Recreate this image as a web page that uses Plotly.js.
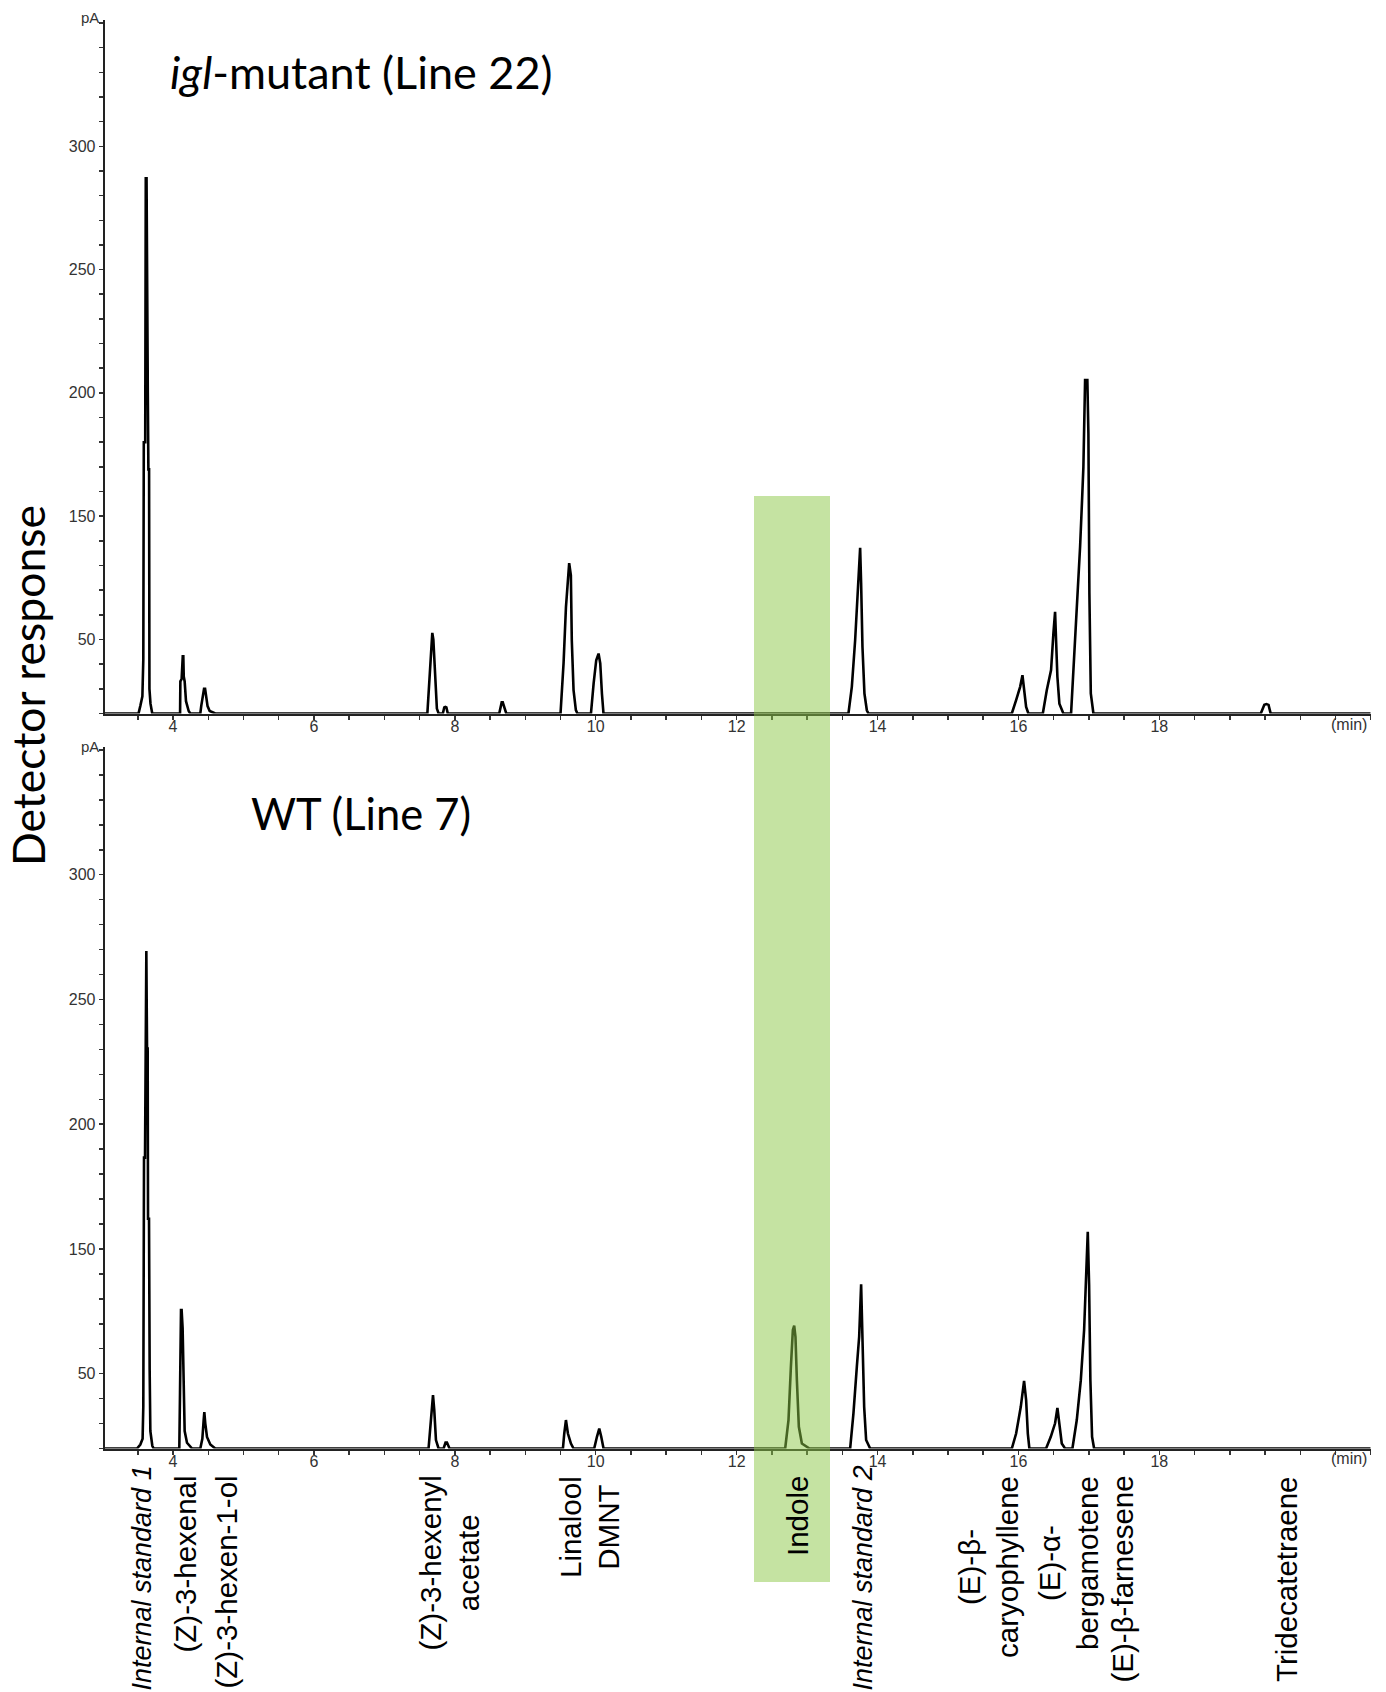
<!DOCTYPE html>
<html>
<head>
<meta charset="utf-8">
<script src="https://cdn.plot.ly/plotly-3.0.1.min.js"></script>
<style>html,body{margin:0;padding:0;background:#fff;}#chart{width:1386px;height:1692px;}</style>
</head>
<body>
<div id="chart"></div>
<script>
// ---------------- DATA ----------------
// Retention time (min) and detector signal for the igl-mutant (Line 22) chromatogram
const timeTop = [
  3.03,
  3.51,3.535,3.565,3.578,3.585,3.605,3.613,3.624,3.632,3.642,3.65,3.66,3.665,3.68,3.705,
  4.10,4.104,4.122,4.138,4.146,4.152,4.165,4.184,4.222,4.245,
  4.387,4.40,4.42,4.44,4.455,4.47,4.49,4.52,4.60,
  7.61,7.64,7.665,7.68,7.695,7.72,7.745,7.77,
  7.83,7.85,7.865,7.88,7.90,
  8.63,8.665,8.68,8.705,8.73,
  9.50,9.543,9.577,9.605,9.623,9.647,9.66,9.685,9.718,9.74,
  9.932,9.97,10.007,10.04,10.064,10.088,10.11,
  13.587,13.635,13.682,13.72,13.753,13.767,13.786,13.814,13.848,13.871,
  15.906,15.967,16.024,16.057,16.085,16.109,16.141,
  16.346,16.402,16.463,16.496,16.52,16.534,16.553,16.581,16.638,
  16.747,16.79,16.837,16.875,16.903,16.922,16.946,16.978,16.993,17.007,17.027,17.064,
  19.44,19.49,19.52,19.55,19.58,
  21.0
];
const signalTop = [
  70,
  70,73,77,92,180,180,287,287,200,200,169,169,80,74,70,
  70,83,84,93.2,93.2,85,83,75,71,70,
  70,73,76,80,80,76,73,71,70,
  70,85,100,102.7,100,85,72,70,
  70,72.5,72.7,72.5,70,
  70,74.5,74.5,72,70,
  70,90.3,113,126.4,131,126,99.7,79.5,71.4,70,
  70,82.2,91.6,94.3,90.3,78,70,
  70,80.8,99.7,117.3,137.2,122.7,97,78.1,71.3,70,
  70,75.4,80.8,85.5,79.4,72.7,70,
  70,79.4,87.6,102.4,111.2,99.7,84.8,74,70,
  70,91.6,114.6,137.6,156.5,170,205.2,205.2,183.5,118.7,78.1,70,
  70,73.5,73.8,73.5,70,
  70
];
// Retention time (min) and detector signal for the WT (Line 7) chromatogram
const timeBottom = [
  3.03,
  3.489,3.536,3.568,3.578,3.588,3.602,3.611,3.621,3.631,3.64,3.645,3.659,3.668,3.678,3.706,3.725,
  4.089,4.094,4.099,4.113,4.122,4.136,4.146,4.165,4.198,4.27,
  4.387,4.416,4.435,4.444,4.458,4.482,4.529,4.60,
  7.627,7.661,7.69,7.708,7.732,7.769,
  7.84,7.868,7.888,7.925,
  9.534,9.553,9.577,9.605,9.648,9.685,
  9.978,10.017,10.05,10.078,10.111,
  12.689,12.736,12.77,12.798,12.817,12.835,12.855,12.883,12.926,13.034,
  13.611,13.658,13.706,13.739,13.767,13.786,13.81,13.838,13.895,
  15.906,15.967,16.033,16.08,16.109,16.133,16.155,
  16.392,16.459,16.52,16.553,16.581,16.615,16.662,
  16.766,16.828,16.885,16.932,16.96,16.984,17.003,17.021,17.045,17.074,
  21.0
];
const signalBottom = [
  70,
  70,71.6,73.9,86.9,186.6,186.6,269.4,269.4,230.3,230.3,162.1,162.1,101.8,77,71.1,70,
  70,92.3,92.3,125.5,125.5,118.3,96.9,77,72.3,70,
  70,73.9,81.5,84.6,80,74.6,71.6,70,
  70,81.4,91.4,85.4,73.4,70,
  70,72.4,72.4,70,
  70,76,81.4,76,72,70,
  70,74.7,78,74.7,70,
  70,81.4,102.7,117.5,119.2,114.8,97.4,78.7,72,70,
  70,84.1,102.7,114.8,135.8,114.8,86.7,73.4,70,
  70,76,86.7,97.1,89.4,76,70,
  70,74.7,80.1,86.3,80.1,72,70,
  70,81.4,97.4,117.5,135.5,156.9,135.5,97.4,74.7,70,
  70
];
// Axis tick labels as printed in the reference
const yTickVals = [100, 150, 200, 250, 300];
const yTickText = ['50', '150', '200', '250', '300'];
const xTickVals = [4, 6, 8, 10, 12, 14, 16, 18];
const xTickText = ['4', '6', '8', '10', '12', '14', '16', '18'];
// Panel titles and compound names
const panelTitles = ['<i>igl</i>-mutant (Line 22)', 'WT (Line 7)'];
const compoundNames = [
  'Internal standard 1', '(Z)-3-hexenal', '(Z)-3-hexen-1-ol', '(Z)-3-hexenyl<br>acetate',
  'Linalool<br>DMNT', 'Indole', 'Internal standard 2', '(E)-β-<br>caryophyllene',
  '(E)-α-<br>bergamotene', '(E)-β-farnesene', 'Tridecatetraene'
];

// ---------------- LAYOUT / STYLE ----------------
const W = 1386, H = 1692;
const px = x => x / W;
const py = y => 1 - y / H;
const labelStyle = {
  x: [141, 185, 226, 449, 589, 797, 862, 988, 1068, 1122, 1286],
  italic: [true, false, false, false, false, false, true, false, false, false, false]
};
const ARIAL = 'Arial, "Liberation Sans", sans-serif';
const TITLEF = 'Lato, Calibri, "Open Sans", sans-serif';

const traces = [
  {x: timeTop, y: signalTop, xaxis: 'x', yaxis: 'y', type: 'scatter', mode: 'lines',
   line: {color: '#000', width: 2.6}, hoverinfo: 'skip'},
  {x: timeBottom, y: signalBottom, xaxis: 'x2', yaxis: 'y2', type: 'scatter', mode: 'lines',
   line: {color: '#000', width: 2.6}, hoverinfo: 'skip'}
];

const xDomain = [px(104.7), px(1370.7)];
const yRange = [70, 351.2];
function xAxis(anchor) {
  return {
    domain: xDomain, range: [3.03, 21.0], anchor: anchor,
    showline: true, linecolor: '#222', linewidth: 2, mirror: false,
    showgrid: false, zeroline: false,
    tickmode: 'array', tickvals: xTickVals, ticktext: xTickText,
    ticks: 'outside', ticklen: 4, tickwidth: 1.5, tickcolor: '#333',
    ticklabelstandoff: -7,
    tickfont: {family: ARIAL, size: 16, color: '#333'},
    minor: {tickmode: 'linear', tick0: 0, dtick: 0.5, ticks: 'outside', ticklen: 4, tickwidth: 1.5, tickcolor: '#333'},
    fixedrange: true
  };
}
function yAxis(anchor, dom) {
  return {
    domain: dom, range: yRange, anchor: anchor,
    showline: true, linecolor: '#222', linewidth: 2,
    showgrid: false, zeroline: false,
    tickmode: 'array', tickvals: yTickVals, ticktext: yTickText,
    ticks: 'outside', ticklen: 4, tickwidth: 1.5, tickcolor: '#333',
    tickfont: {family: ARIAL, size: 16, color: '#333'},
    minor: {tickmode: 'linear', tick0: 0, dtick: 10, ticks: 'outside', ticklen: 4, tickwidth: 1.5, tickcolor: '#333'},
    fixedrange: true
  };
}

const annotations = [];
// panel titles
annotations.push({xref: 'paper', yref: 'paper', x: px(168), y: py(72), xanchor: 'left', yanchor: 'middle',
  text: panelTitles[0], showarrow: false, font: {family: TITLEF, size: 45, color: '#000'}});
annotations.push({xref: 'paper', yref: 'paper', x: px(249), y: py(813), xanchor: 'left', yanchor: 'middle',
  text: panelTitles[1], showarrow: false, font: {family: TITLEF, size: 43.5, color: '#000'}});
// shared y title
annotations.push({xref: 'paper', yref: 'paper', x: px(27), y: py(686), xanchor: 'center', yanchor: 'middle',
  text: 'Detector response', textangle: -90, showarrow: false, font: {family: TITLEF, size: 44.5, color: '#000'}});
// pA unit labels at the top of each y axis
[18, 747].forEach(yy => {
  annotations.push({xref: 'paper', yref: 'paper', x: px(101), y: py(yy), xanchor: 'right', yanchor: 'middle',
    text: 'pA', showarrow: false, font: {family: ARIAL, size: 15, color: '#333'}});
});
// (min) unit labels at the end of each x axis
[724, 1458].forEach(yy => {
  annotations.push({xref: 'paper', yref: 'paper', x: px(1349), y: py(yy), xanchor: 'center', yanchor: 'middle',
    text: '(min)', showarrow: false, font: {family: ARIAL, size: 16, color: '#333'}});
});
// compound labels
compoundNames.forEach((name, i) => {
  const it = labelStyle.italic[i];
  annotations.push({
    xref: 'paper', yref: 'paper', x: px(labelStyle.x[i]), y: py(it ? 1464 : 1474),
    xanchor: 'center', yanchor: 'top', textangle: -90, align: 'center',
    text: it ? '<i>' + name + '</i>' : name, showarrow: false,
    font: {family: ARIAL, size: it ? 27 : 29.5, color: '#000'}
  });
});

const layout = {
  width: W, height: H, margin: {l: 0, r: 0, t: 0, b: 0},
  paper_bgcolor: '#fff', plot_bgcolor: 'rgba(0,0,0,0)',
  showlegend: false,
  xaxis: xAxis('y'), yaxis: yAxis('x', [py(713.5), py(20)]),
  xaxis2: xAxis('y2'), yaxis2: yAxis('x2', [py(1448.5), py(747)]),
  shapes: [{type: 'rect', xref: 'paper', yref: 'paper', x0: px(754), x1: px(830), y0: py(1582), y1: py(496),
    fillcolor: 'rgba(140,200,70,0.5)', line: {width: 0}, layer: 'above'}],
  annotations: annotations
};

Plotly.newPlot('chart', traces, layout, {staticPlot: true, displayModeBar: false});
</script>
</body>
</html>
